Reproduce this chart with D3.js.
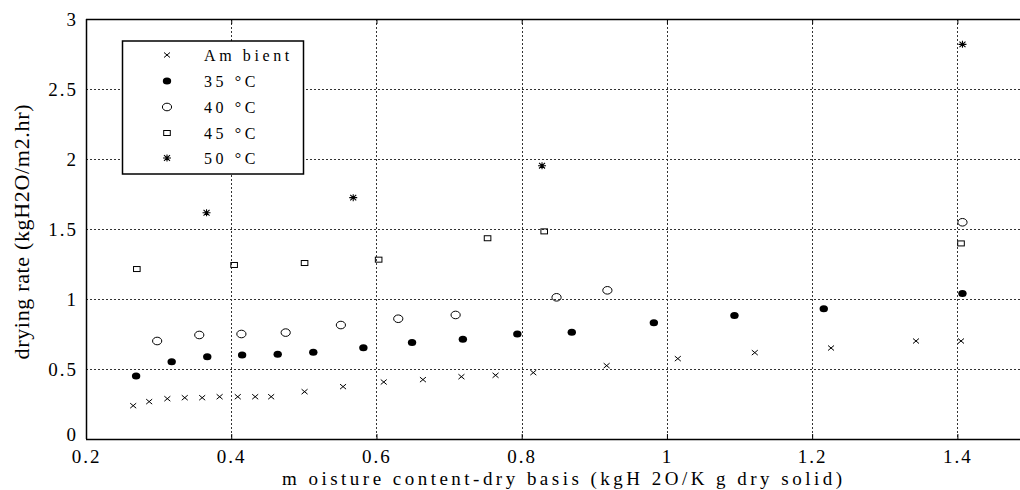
<!DOCTYPE html>
<html><head><meta charset="utf-8">
<script src="https://cdn.jsdelivr.net/npm/d3@7"></script>
<style>
html,body{margin:0;padding:0;background:#fff;}
svg{display:block;}
</style></head><body>
<script>
const xTicks=[0.2,0.4,0.6,0.8,1,1.2,1.4];
const yTicks=[0,0.5,1,1.5,2,2.5,3];
const xTickLabels=["0.2","0.4","0.6","0.8","1","1.2","1.4"];
const yTickLabels=["0","0.5","1","1.5","2","2.5","3"];
const seriesNames=["Am bient","35 °C","40 °C","45 °C","50 °C"];
const ambientX=[0.265,0.287,0.312,0.336,0.360,0.384,0.409,0.433,0.455,0.501,0.554,0.610,0.664,0.717,0.764,0.816,0.917,1.015,1.121,1.226,1.343,1.405];
const ambientY=[0.238,0.267,0.288,0.295,0.295,0.302,0.302,0.302,0.302,0.338,0.374,0.407,0.424,0.445,0.455,0.474,0.524,0.574,0.617,0.650,0.700,0.700];
const c35X=[0.269,0.318,0.367,0.415,0.464,0.513,0.582,0.649,0.719,0.794,0.869,0.982,1.093,1.216,1.407];
const c35Y=[0.450,0.552,0.588,0.600,0.605,0.619,0.652,0.690,0.712,0.750,0.762,0.831,0.883,0.931,1.040];
const c40X=[0.298,0.356,0.414,0.475,0.551,0.630,0.709,0.848,0.918,1.407];
const c40Y=[0.700,0.743,0.750,0.760,0.814,0.859,0.886,1.012,1.062,1.548];
const c45X=[0.270,0.404,0.501,0.603,0.753,0.831,1.405];
const c45Y=[1.214,1.243,1.257,1.281,1.434,1.483,1.397];
const c50X=[0.366,0.568,0.828,1.407];
const c50Y=[1.616,1.724,1.952,2.819];

const FONT="Liberation Serif";
const W=1020,H=490;
const L=86,T=19,R=1030,B=439;
const svg=d3.select("body").append("svg").attr("width",W).attr("height",H);
const x=d3.scaleLinear().domain([0.2,1.5]).range([L,R]);
const y=d3.scaleLinear().domain([0,3]).range([B,T]);
function serif(sel){ return sel.attr("font-family",FONT).style("font-family",'"Liberation Serif"').attr("fill","#000"); }

// grid
const g=svg.append("g");
g.selectAll(".gx").data(xTicks.slice(1)).enter().append("line")
 .attr("x1",d=>Math.round(x(d))+0.5).attr("x2",d=>Math.round(x(d))+0.5)
 .attr("y1",T).attr("y2",B).attr("stroke","#333").attr("stroke-width",1).attr("stroke-dasharray","2,2");
g.selectAll(".gy").data(yTicks.slice(1,-1)).enter().append("line")
 .attr("x1",L).attr("x2",W).attr("y1",d=>Math.round(y(d))+0.5).attr("y2",d=>Math.round(y(d))+0.5)
 .attr("stroke","#333").attr("stroke-width",1).attr("stroke-dasharray","2,2");

// axes
const xAxis=d3.axisBottom(x).tickValues(xTicks).tickSize(-5).tickPadding(8).tickFormat((d,i)=>xTickLabels[i]);
const ax=svg.append("g").attr("transform",`translate(0,${B})`).call(xAxis).attr("font-family",FONT);
ax.select(".domain").remove();
ax.selectAll("line").attr("stroke","#000");
serif(ax.selectAll("text")).attr("font-size",19).attr("letter-spacing","2px").attr("dy","0.85em");
const xAxisTop=d3.axisTop(x).tickValues(xTicks).tickSize(-5).tickFormat("");
const axt=svg.append("g").attr("transform",`translate(0,${T})`).call(xAxisTop);
axt.select(".domain").remove();
axt.selectAll("line").attr("stroke","#000");

const yAxis=d3.axisLeft(y).tickValues(yTicks).tickSize(0).tickPadding(8).tickFormat((d,i)=>yTickLabels[i]);
const ay=svg.append("g").attr("transform",`translate(${L},0)`).call(yAxis).attr("font-family",FONT);
ay.select(".domain").remove();
serif(ay.selectAll("text")).attr("font-size",19).attr("letter-spacing","2px");
ay.selectAll(".tick").filter(d=>d===0).select("text").attr("dy","0.1em");

// frame
svg.append("line").attr("x1",L).attr("x2",W).attr("y1",T+0.5).attr("y2",T+0.5).attr("stroke","#000").attr("stroke-width",1.5);
svg.append("line").attr("x1",L).attr("x2",W).attr("y1",B+0.5).attr("y2",B+0.5).attr("stroke","#000").attr("stroke-width",1.5);
svg.append("line").attr("x1",L+0.5).attr("x2",L+0.5).attr("y1",T).attr("y2",B).attr("stroke","#000").attr("stroke-width",1.5);

// markers
function marker(sel,type){
  if(type===0){
    sel.append("path").attr("d","M-3,-2.5L3,2.5M-3,2.5L3,-2.5").attr("stroke","#000").attr("stroke-width",1).attr("fill","none");
  }else if(type===1){
    sel.append("ellipse").attr("rx",4.2).attr("ry",3.5).attr("fill","#000");
  }else if(type===2){
    sel.append("ellipse").attr("rx",4.6).attr("ry",3.8).attr("fill","none").attr("stroke","#000").attr("stroke-width",1);
  }else if(type===3){
    sel.append("rect").attr("x",-3.3).attr("y",-2.5).attr("width",6.6).attr("height",5).attr("fill","none").attr("stroke","#000").attr("stroke-width",1);
  }else{
    sel.append("path").attr("d","M-4,0L4,0M0,-3.5L0,3.5M-3,-2.8L3,2.8M-3,2.8L3,-2.8").attr("stroke","#000").attr("stroke-width",1.1).attr("fill","none");
  }
}
const allSeries=[[ambientX,ambientY],[c35X,c35Y],[c40X,c40Y],[c45X,c45Y],[c50X,c50Y]];
allSeries.forEach((s,k)=>{
  const pts=s[0].map((v,i)=>[v,s[1][i]]);
  svg.append("g").selectAll("g").data(pts).enter().append("g")
   .attr("transform",d=>`translate(${x(d[0])},${y(d[1])})`)
   .each(function(){marker(d3.select(this),k);});
});

// legend
const lg=svg.append("g");
lg.append("rect").attr("x",122.5).attr("y",41).attr("width",181).attr("height",133).attr("fill","#fff").attr("stroke","#000").attr("stroke-width",1.5);
const rowsY=[55,81,107,133,158];
seriesNames.forEach((n,k)=>{
  const r=lg.append("g").attr("transform",`translate(167,${rowsY[k]})`);
  marker(r,k);
  serif(lg.append("text")).attr("x",204).attr("y",rowsY[k]+6).attr("font-size",16).attr("letter-spacing","3.6px").text(n);
});

// titles
serif(svg.append("text")).attr("x",562).attr("y",485).attr("text-anchor","middle").attr("font-size",19)
 .attr("textLength",560).attr("lengthAdjust","spacing")
 .text("m oisture content-dry basis (kgH 2O/K g dry solid)");
serif(svg.append("text")).attr("transform","translate(29,232) rotate(-90)").attr("text-anchor","middle").attr("font-size",22)
 .attr("textLength",255).attr("lengthAdjust","spacing")
 .text("drying rate (kgH2O/m2.hr)");
</script>
</body></html>
